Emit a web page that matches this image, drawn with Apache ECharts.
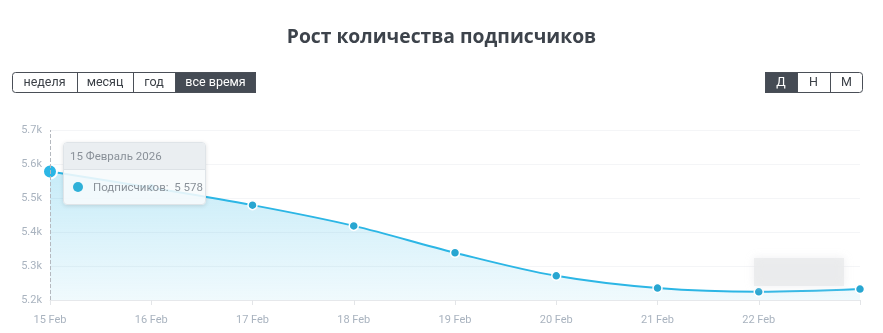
<!DOCTYPE html>
<html><head><meta charset="utf-8">
<script src="https://cdn.jsdelivr.net/npm/echarts@6/dist/echarts.min.js"></script>
<style>html,body{margin:0;padding:0;background:#fff;overflow:hidden}#c{width:883px;height:333px}</style>
</head><body><div id="c"></div>
<script>
const categories = ['15 Feb','16 Feb','17 Feb','18 Feb','19 Feb','20 Feb','21 Feb','22 Feb','23 Feb'];
const tooltipDates = ['15 Февраль 2026','16 Февраль 2026','17 Февраль 2026','18 Февраль 2026','19 Февраль 2026','20 Февраль 2026','21 Февраль 2026','22 Февраль 2026','23 Февраль 2026'];
const subscribers = [5578, 5530, 5479, 5418, 5339, 5271, 5235, 5224, 5232];
const seriesName = 'Подписчиков';
const titleText = 'Рост количества подписчиков';
const periodButtons = ['неделя','месяц','год','все время'];
const periodActive = 3;
const scaleButtons = ['Д','Н','М'];
const scaleActive = 0;
const hoveredIndex = 0;

const chart = echarts.init(document.getElementById('c'), null, {renderer:'canvas'});
const FONT = 'Roboto, "Open Sans", sans-serif';

function buttonGroup(labels, active, x, y, widths, h){
  const children = [];
  let cx = 0;
  labels.forEach((t,i)=>{
    const w = widths[i];
    children.push({type:'rect', shape:{x:cx,y:0,width:w,height:h},
      style:{fill: i===active ? '#454b54' : '#fff', stroke:'none'}});
    children.push({type:'text', x:cx+w/2, y:h/2, style:{text:t, fill: i===active ? '#fff':'#3a3f46',
      font:'12.5px '+FONT, align:'center', verticalAlign:'middle'}});
    if(i>0) children.push({type:'line', shape:{x1:cx+0.5,y1:0,x2:cx+0.5,y2:h}, style:{stroke:'#4a4f57',lineWidth:1}});
    cx += w;
  });
  children.push({type:'rect', shape:{x:0.5,y:0.5,width:cx-1,height:h-1,r:3}, style:{fill:'none',stroke:'#4a4f57',lineWidth:1}});
  return {type:'group', x:x, y:y, children};
}

function fmt(v){ return String(v).replace(/\B(?=(\d{3})+(?!\d))/g,' '); }

const seriesData = subscribers.map((v,i)=> i===hoveredIndex ? {value:v, symbolSize:14, itemStyle:{borderWidth:2}} : v);

chart.setOption({
  animation:false,
  title:{text:titleText, left:'center', top:23, textStyle:{fontFamily:'"Open Sans", sans-serif', fontSize:19.3, fontWeight:'bold', color:'#3d434b'}},
  grid:{left:50, right:23, top:130, bottom:33},
  tooltip:{
    trigger:'axis', alwaysShowContent:true, transitionDuration:0, padding:0,
    backgroundColor:'rgba(247,250,252,0.88)', borderColor:'#dfe4e8', borderWidth:1,
    extraCssText:'border-radius:4px;box-shadow:0 1px 4px rgba(0,0,0,0.12);overflow:hidden;',
    position:function(){ return [63,142]; },
    axisPointer:{type:'line', lineStyle:{color:'#b5b9bf', type:'dashed', width:1}},
    formatter:function(params){
      const p = params[0];
      return '<div style="width:141px;white-space:nowrap;font-family:Roboto,sans-serif;font-size:11.5px;color:#8a9199">'+
        '<div style="background:rgba(234,237,240,0.95);height:26px;line-height:26px;padding-left:6px;border-bottom:1px solid #dde2e6">'+tooltipDates[p.dataIndex]+'</div>'+
        '<div style="height:34px;line-height:34px;padding-left:9px">'+
        '<span style="display:inline-block;width:10px;height:10px;border-radius:5px;background:#2fb0d8;vertical-align:-1px;margin-right:10px"></span>'+
        seriesName+':&nbsp; '+fmt(p.value)+'</div></div>';
    }
  },
  xAxis:{type:'category', data:categories, boundaryGap:false,
    axisLine:{lineStyle:{color:'#e6e8eb'}},
    axisTick:{show:true, length:5, lineStyle:{color:'#e3e5e8'}, alignWithLabel:true},
    axisLabel:{color:'#a9b3bf', fontSize:11, fontFamily:FONT, margin:15,
      formatter:function(v,i){ return i===categories.length-1 ? '' : v; }}
  },
  yAxis:{type:'value', min:5200, max:5700, interval:100,
    axisLine:{show:false}, axisTick:{show:false},
    splitLine:{lineStyle:{color:'#f4f5f7'}},
    axisLabel:{color:'#a9b3bf', fontSize:11, fontFamily:FONT, margin:8, padding:[0,0,5,0],
      formatter:function(v){ return (v/1000).toFixed(1)+'k'; }}
  },
  series:[{
    name:seriesName, type:'line', data:seriesData, smooth:0.35, clip:false,
    symbol:'circle', symbolSize:9, showAllSymbol:true,
    itemStyle:{color:'#28a6d1', borderColor:'#fff', borderWidth:1.5},
    lineStyle:{color:'#28a6d1', width:2},
    emphasis:{scale:false},
    areaStyle:{color:new echarts.graphic.LinearGradient(0,0,0,1,[
      {offset:0,color:'rgba(40,166,209,0.38)'},{offset:1,color:'rgba(40,166,209,0.10)'}])}
  }],
  graphic:[
    buttonGroup(periodButtons, periodActive, 12, 72, [65,56,42,81], 21),
    buttonGroup(scaleButtons, scaleActive, 765, 72, [32,33,33], 21),
    {type:'rect', z:100, shape:{x:754,y:258,width:90,height:28}, style:{fill:'rgba(232,233,235,0.75)', shadowBlur:8, shadowColor:'rgba(232,233,235,0.95)'}}
  ]
});
chart.dispatchAction({type:'showTip', seriesIndex:0, dataIndex:hoveredIndex});
</script></body></html>
